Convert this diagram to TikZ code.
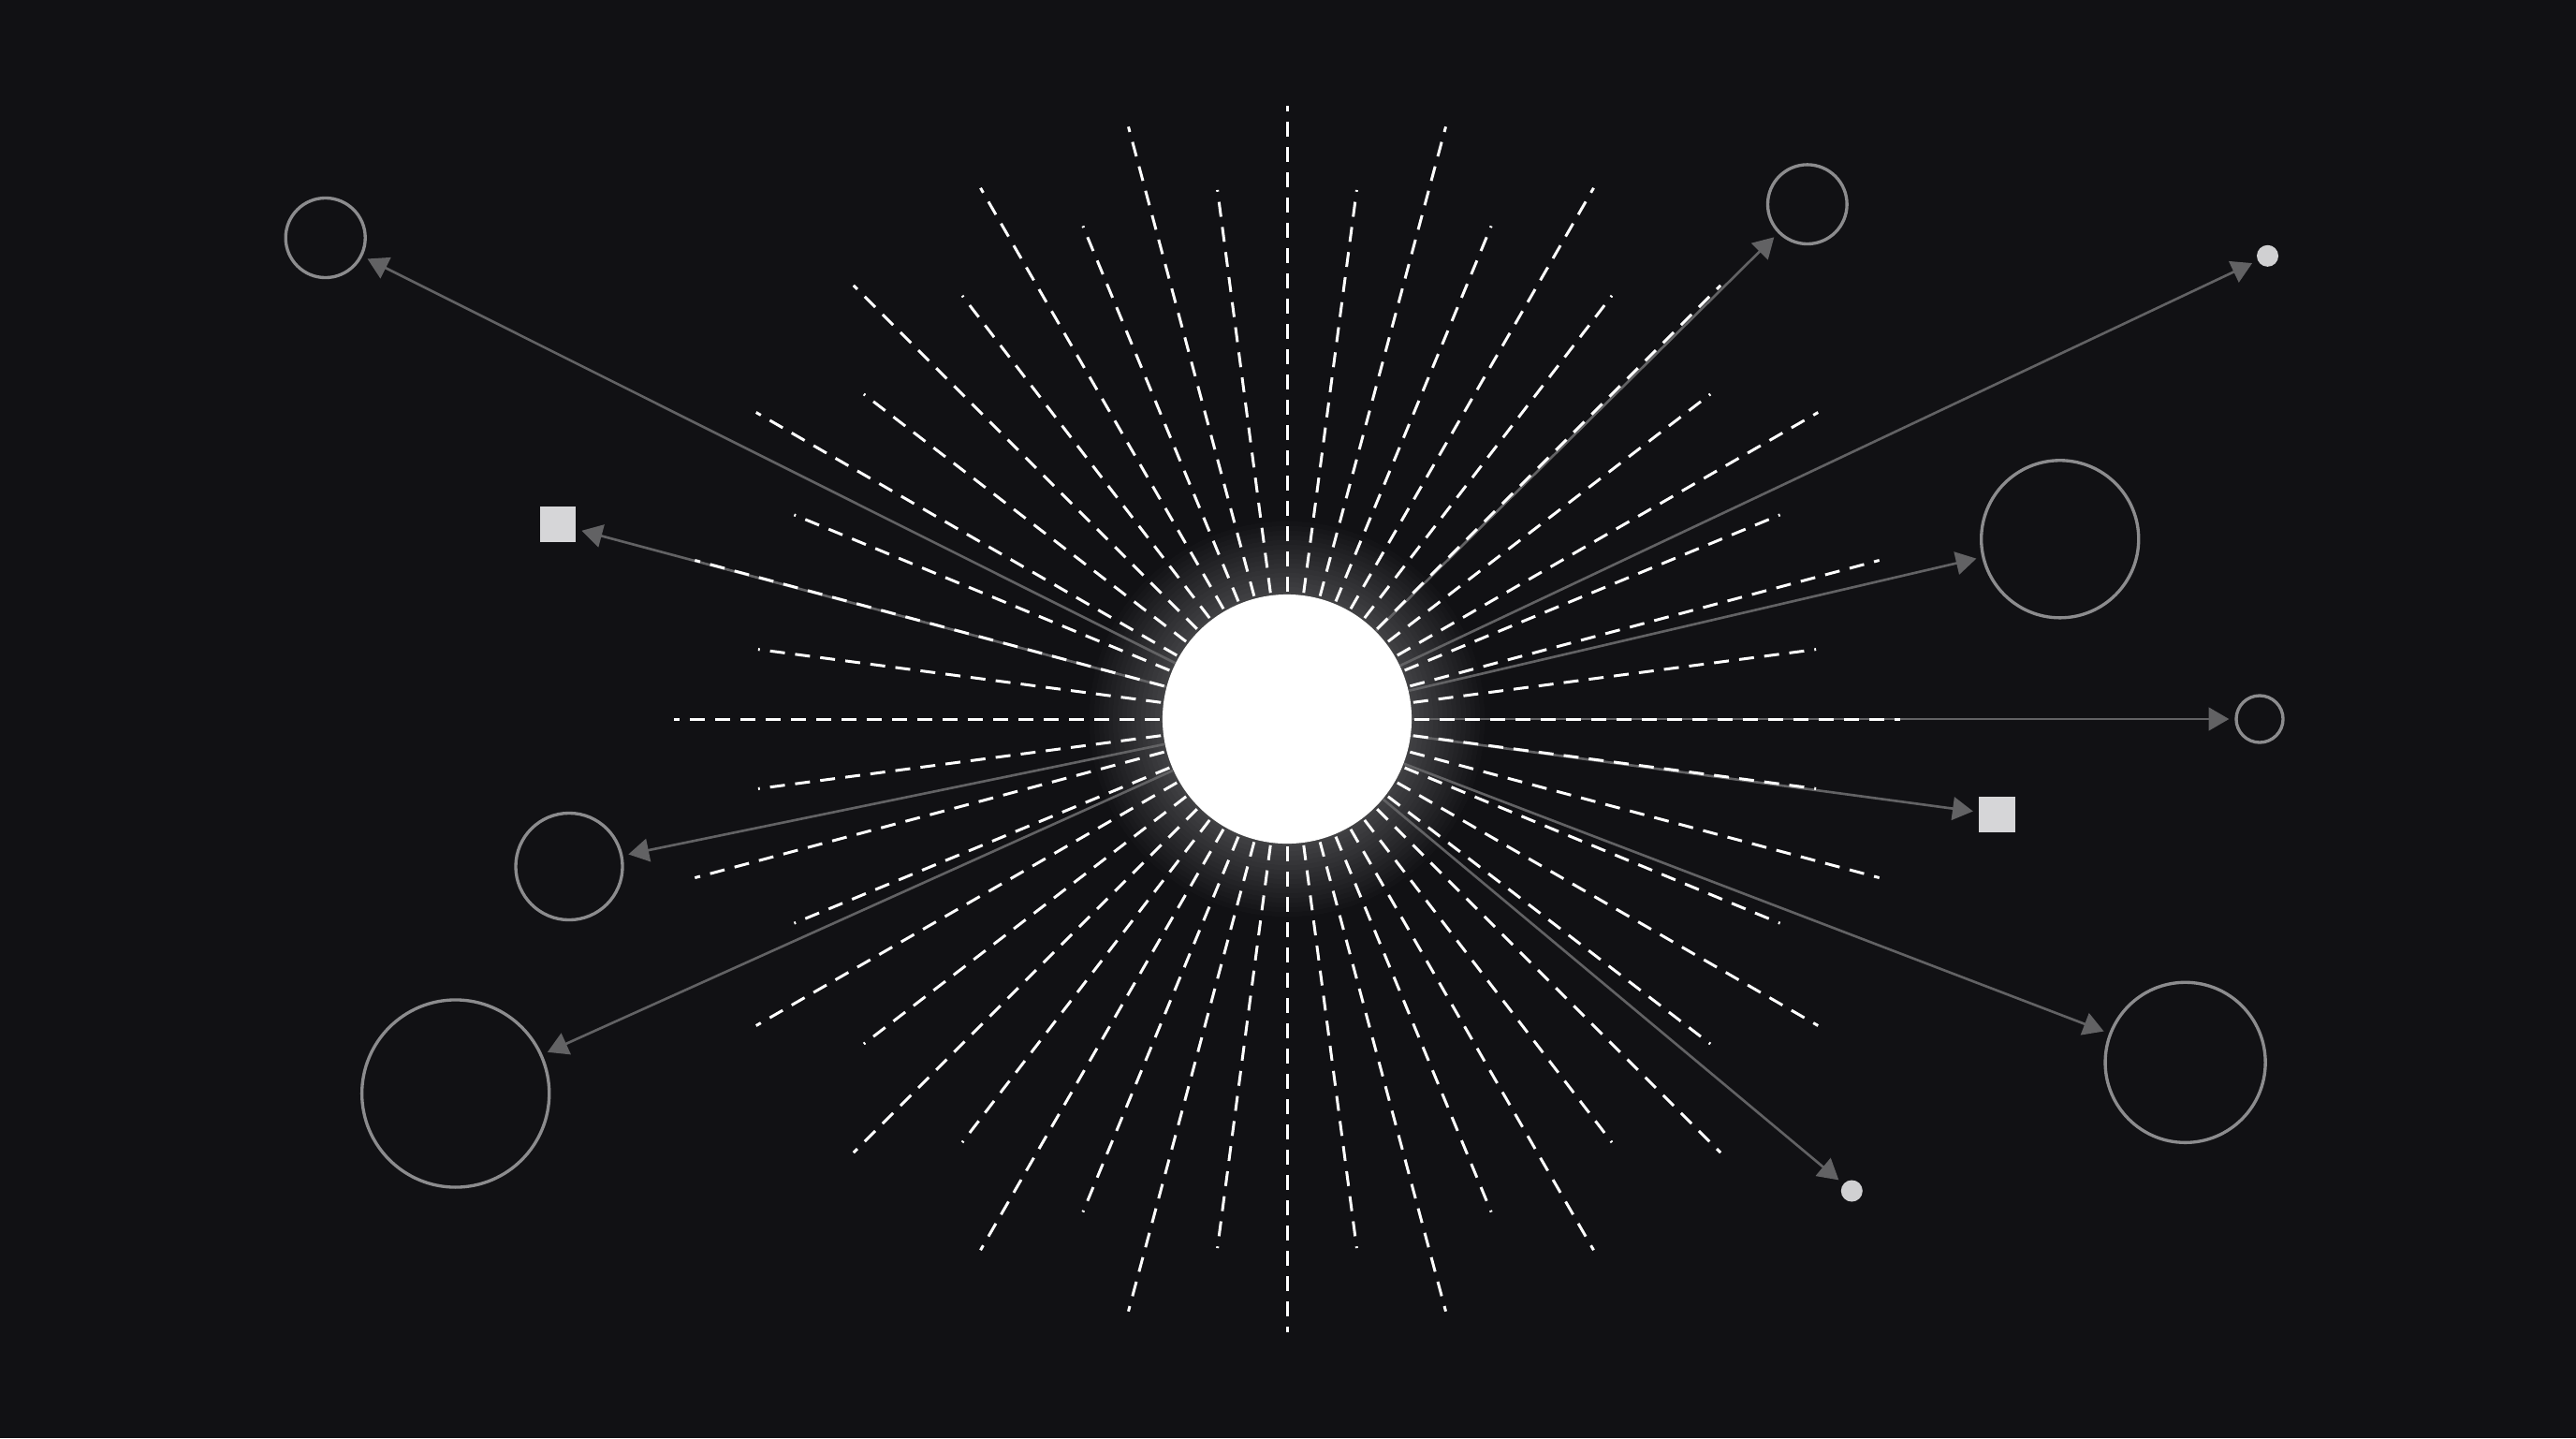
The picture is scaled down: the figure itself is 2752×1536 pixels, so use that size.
\documentclass[tikz,border=0pt]{standalone}
\usetikzlibrary{arrows.meta}
\pgfdeclarelayer{bglayer}
\pgfdeclarelayer{arrowlayer}
\pgfdeclarelayer{raylayer}
\pgfsetlayers{bglayer,arrowlayer,raylayer,main}
\definecolor{bg}{RGB}{17,17,20}
\definecolor{linkc}{RGB}{98,98,100}
\definecolor{ringc}{RGB}{140,140,142}
\definecolor{boxc}{RGB}{214,214,216}
\definecolor{dotc}{RGB}{208,208,210}
\begin{document}
\begin{tikzpicture}[x=0.01cm,y=-0.01cm,
  sun/.style={circle, fill=white, minimum size=2.66cm, inner sep=0pt},
  ring/.style={circle, draw=ringc, line width=0.95pt, inner sep=0pt},
  box/.style={rectangle, fill=boxc, minimum size=0.38cm, inner sep=0pt},
  dot/.style={circle, fill=dotc, minimum size=0.23cm, inner sep=0pt},
  link/.style={draw=linkc, line width=0.75pt, -{Triangle[length=6.2pt,width=7pt]}, shorten >=1.7pt},
  ray/.style={draw=white, line width=0.85pt, dash pattern=on 4.55pt off 3.13pt},
  haze/.style={fill=white, opacity=0.014}]
\begin{pgfonlayer}{bglayer}
\fill[bg] (0,0) rectangle (2752,1536);
\foreach \r in {136,141,...,211}{
  \pgfmathsetmacro\rr{\r*0.28453}
  \fill[haze] (1375,768) circle[radius=\rr pt];
}
\end{pgfonlayer}
\useasboundingbox (0,0) rectangle (2752,1536);
% sun
\node[sun] (sun) at (1375,768) {};
% targets
\node[ring, minimum size=0.85cm] (c1) at (347.7,254) {};
\node[box] (q1) at (596,560) {};
\node[ring, minimum size=1.14cm] (c2) at (608,925.5) {};
\node[ring, minimum size=2.0cm] (c3) at (486.7,1168) {};
\node[ring, minimum size=0.846cm] (c4) at (1930.8,218.2) {};
\node[dot] (d1) at (2422.5,273.3) {};
\node[ring, minimum size=1.68cm] (c5) at (2200.7,575.8) {};
\node[ring, minimum size=0.5cm] (c6) at (2414,768) {};
\node[box, minimum size=0.385cm] (q2) at (2133.7,870) {};
\node[ring, minimum size=1.71cm] (c7) at (2334.6,1134.8) {};
\node[dot] (d2) at (1978.3,1272) {};
% connectors
\begin{pgfonlayer}{arrowlayer}
\foreach \t in {c1,q1,c2,c3,c4,d1,c5,c6,q2,c7,d2}
  \draw[link] (sun) -- (\t);
\end{pgfonlayer}
% rays
\begin{pgfonlayer}{raylayer}
\begin{scope}[shift={(sun.center)}]
\foreach \i in {0,...,47}{
  \pgfmathsetmacro\L{mod(\i,2)==0 ? 655 : 570}
  \draw[ray] (\i*7.5:136) -- (\i*7.5:\L);
}
\end{scope}
\end{pgfonlayer}
\end{tikzpicture}
\end{document}
